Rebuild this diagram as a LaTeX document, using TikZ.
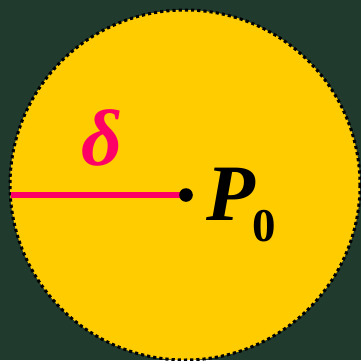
\documentclass[tikz,border=0pt]{standalone}
\usepackage{fontspec}
\setmainfont{Liberation Serif}
\definecolor{bg}{HTML}{203A2E}
\definecolor{disk}{HTML}{FFCC00}
\definecolor{rad}{HTML}{FF0066}
\begin{document}
\begin{tikzpicture}[x=1pt,y=-1pt,
  lbl/.style={inner sep=0pt,anchor=base west,font=\bfseries\itshape}]
\fill[bg] (0,0) rectangle (361,360);
\useasboundingbox (0,0) rectangle (361,360);
\coordinate (c) at (185,185);
\fill[disk] (c) circle (175);
\draw[black,line width=3pt,dash pattern=on 3.2pt off 3pt] (c) circle (175);
\coordinate (p) at (186,195);
\coordinate (e) at (10.5,195);
\draw[rad,line width=5.5pt] (e) -- (p);
\fill[black] (p) circle (6.8);
\node[lbl,text=rad,font=\fontsize{80}{80}\selectfont\bfseries\itshape] (d) at (81,165) {δ};
\node[lbl,font=\fontsize{80}{80}\selectfont\bfseries\itshape] (P) at (206,220) {P};
\node[lbl,font=\fontsize{47}{47}\selectfont\bfseries] (z) at (252,241) {0};
\end{tikzpicture}
\end{document}
